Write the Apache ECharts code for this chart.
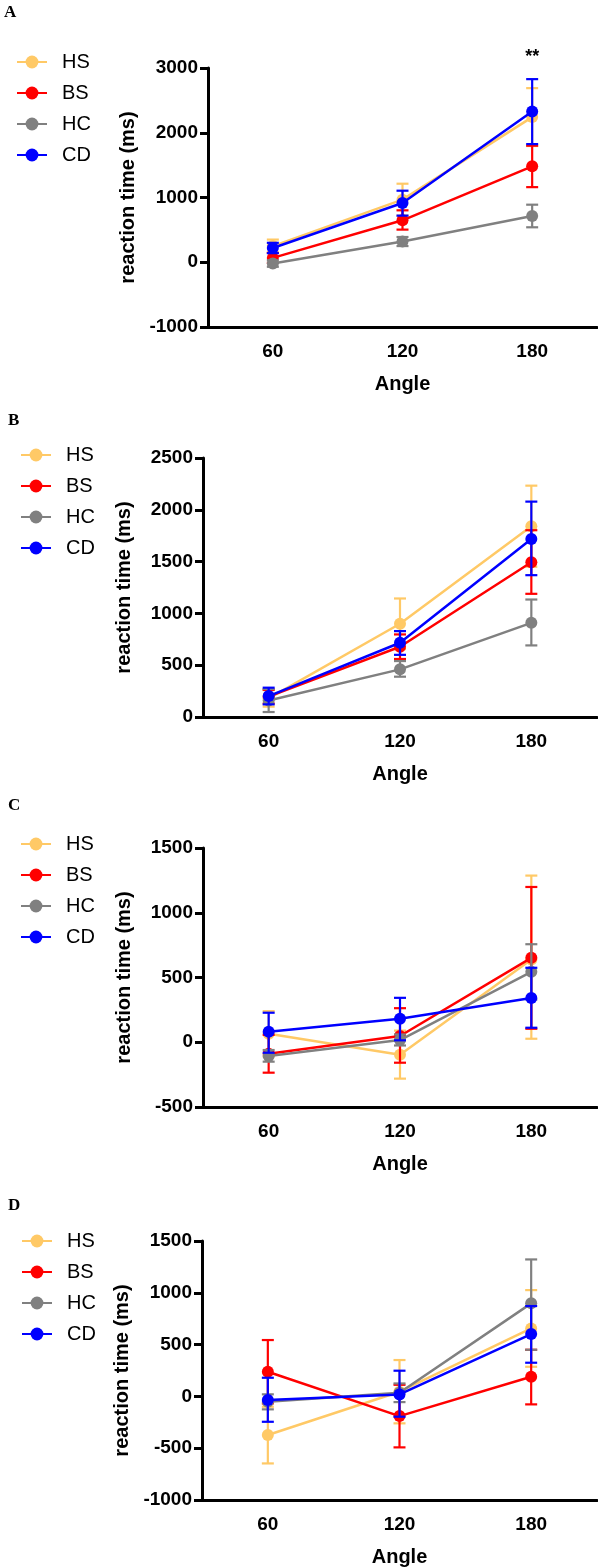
<!DOCTYPE html>
<html>
<head>
<meta charset="utf-8">
<script src="https://cdn.jsdelivr.net/npm/echarts@6/dist/echarts.min.js"></script>
<style>
html,body{margin:0;padding:0;background:#fff;}
#chart{width:598px;height:1568px;}
</style>
</head>
<body>
<div id="chart"></div>
<script>
// ---- Data ----
const angles = ['60', '120', '180'];
const groups = ['HS', 'BS', 'HC', 'CD'];
const panelLetters = ['A', 'B', 'C', 'D'];
const yMin = [-1000, 0, -500, -1000];
const yMax = [3000, 2500, 1500, 1500];
const yStep = [1000, 500, 500, 500];

// Panel A
const A_HS = [250, 967, 2242];   const A_HS_err = [[150, 350], [720, 1213], [1795, 2689]];
const A_BS = [67, 648, 1481];    const A_BS_err = [[-10, 145], [504, 802], [1160, 1800]];
const A_HC = [-20, 320, 715];    const A_HC_err = [[-70, 30], [250, 390], [540, 889]];
const A_CD = [220, 915, 2329];   const A_CD_err = [[140, 300], [720, 1105], [1825, 2828]];
// Panel B
const B_HS = [180, 900, 1841];   const B_HS_err = [[100, 260], [656, 1144], [1450, 2233]];
const B_BS = [196, 678, 1494];   const B_BS_err = [[130, 262], [560, 797], [1189, 1803]];
const B_HC = [160, 460, 909];    const B_HC_err = [[48, 270], [389, 540], [691, 1134]];
const B_CD = [202, 717, 1719];   const B_CD_err = [[122, 283], [600, 829], [1369, 2079]];
// Panel C
const C_HS = [65, -96, 639];     const C_HS_err = [[-110, 240], [-281, 90], [27, 1287]];
const C_BS = [-89, 48, 652];     const C_BS_err = [[-235, 57], [-158, 263], [104, 1199]];
const C_HC = [-107, 17, 544];    const C_HC_err = [[-150, -60], [-25, 60], [330, 757]];
const C_CD = [81, 181, 341];     const C_CD_err = [[-81, 228], [15, 343], [112, 575]];
// Panel D
const D_HS = [-373, 45, 656];    const D_HS_err = [[-647, -100], [-260, 351], [286, 1026]];
const D_BS = [238, -190, 190];   const D_BS_err = [[-68, 544], [-492, 112], [-77, 450]];
const D_HC = [-51, 35, 898];     const D_HC_err = [[-125, 20], [-55, 125], [450, 1322]];
const D_CD = [-35, 19, 602];     const D_CD_err = [[-245, 180], [-196, 248], [325, 872]];

// significance annotation (panel A, 180°)
const sigText = '**';
const sigAnchor = [2, 3000];

const means = [
  [A_HS, A_BS, A_HC, A_CD],
  [B_HS, B_BS, B_HC, B_CD],
  [C_HS, C_BS, C_HC, C_CD],
  [D_HS, D_BS, D_HC, D_CD]
];
const errs = [
  [A_HS_err, A_BS_err, A_HC_err, A_CD_err],
  [B_HS_err, B_BS_err, B_HC_err, B_CD_err],
  [C_HS_err, C_BS_err, C_HC_err, C_CD_err],
  [D_HS_err, D_BS_err, D_HC_err, D_CD_err]
];

// ---- Styles / layout ----
const colors = ['#FFC966', '#FF0000', '#808080', '#0000FF'];
const FONT = '"Liberation Sans", Arial, Helvetica, sans-serif';
const gridTop = [68, 458, 848, 1241];
const gridLeft = [208, 203, 203, 202];
const gridH = 259;
const legendTop = [52, 445, 834, 1231];
const legendLeft = [16, 20, 20, 21];
const letterPos = [[4, 4], [8, 412], [8, 797], [8, 1197]];

const grid = [], xAxis = [], yAxis = [], series = [], legend = [], graphic = [];

for (let p = 0; p < 4; p++) {
  grid.push({ left: gridLeft[p], top: gridTop[p], right: 1, height: gridH, containLabel: false });
  xAxis.push({
    type: 'category', gridIndex: p, data: angles, boundaryGap: true,
    name: 'Angle', nameLocation: 'middle', nameGap: 47,
    nameTextStyle: { fontFamily: FONT, fontWeight: 'bold', fontSize: 20, color: '#000' },
    axisLine: { onZero: false, lineStyle: { color: '#000', width: 3 } },
    axisTick: { alignWithLabel: true, length: 8, lineStyle: { color: '#000', width: 3 } },
    axisLabel: { margin: 15, fontFamily: FONT, fontWeight: 'bold', fontSize: 19, color: '#000' },
    splitLine: { show: false }
  });
  yAxis.push({
    type: 'value', gridIndex: p, min: yMin[p], max: yMax[p], interval: yStep[p],
    name: 'reaction time (ms)', nameLocation: 'middle', nameGap: 69,
    nameTextStyle: { fontFamily: FONT, fontWeight: 'bold', fontSize: 20, color: '#000' },
    axisLine: { show: true, lineStyle: { color: '#000', width: 3 } },
    axisTick: { show: true, length: 8, lineStyle: { color: '#000', width: 3 } },
    axisLabel: { margin: 10, fontFamily: FONT, fontWeight: 'bold', fontSize: 19, color: '#000',
      formatter: function (v) { return String(v); } },
    splitLine: { show: false }
  });
  legend.push({
    orient: 'vertical', left: legendLeft[p], top: legendTop[p], padding: 0,
    data: groups, itemWidth: 30, itemHeight: 16, itemGap: 11,
    textStyle: { fontFamily: FONT, fontSize: 20, color: '#000', padding: [0, 0, 0, 10] },
    selectedMode: false
  });
  graphic.push({
    type: 'text', left: letterPos[p][0], top: letterPos[p][1],
    style: { text: panelLetters[p], font: 'bold 17px "Liberation Serif", "Times New Roman", serif', fill: '#000' }
  });

  for (let g = 0; g < 4; g++) {
    const col = colors[g];
    const s = {
      name: groups[g], type: 'line', xAxisIndex: p, yAxisIndex: p,
      data: means[p][g], symbol: 'circle', symbolSize: 12, showSymbol: true,
      lineStyle: { color: col, width: 2.5 }, itemStyle: { color: col },
      z: 2 + g * 2, clip: false
    };
    if (p === 0 && g === 3) {
      s.markPoint = {
        symbol: 'circle', symbolSize: 1, itemStyle: { color: 'rgba(0,0,0,0)' },
        data: [{ coord: sigAnchor, value: sigText }],
        label: { show: true, formatter: sigText, fontFamily: FONT, fontWeight: 'bold', fontSize: 18, color: '#000', position: 'inside', offset: [0, -11] }
      };
    }
    series.push(s);
    series.push({
      name: groups[g], type: 'custom', xAxisIndex: p, yAxisIndex: p,
      data: errs[p][g].map((e, i) => [i, e[0], e[1]]),
      z: 3 + g * 2, clip: false,
      renderItem: function (params, api) {
        const lo = api.coord([api.value(0), api.value(1)]);
        const hi = api.coord([api.value(0), api.value(2)]);
        const w = 6;
        const st = { stroke: col, lineWidth: 2.2 };
        return {
          type: 'group',
          children: [
            { type: 'line', shape: { x1: lo[0], y1: lo[1], x2: hi[0], y2: hi[1] }, style: st },
            { type: 'line', shape: { x1: lo[0] - w, y1: lo[1], x2: lo[0] + w, y2: lo[1] }, style: st },
            { type: 'line', shape: { x1: hi[0] - w, y1: hi[1], x2: hi[0] + w, y2: hi[1] }, style: st }
          ]
        };
      }
    });
  }
}

const chart = echarts.init(document.getElementById('chart'), null, { renderer: 'canvas' });
chart.setOption({
  animation: false,
  backgroundColor: '#fff',
  grid, xAxis, yAxis, series, legend, graphic
});
</script>
</body>
</html>
